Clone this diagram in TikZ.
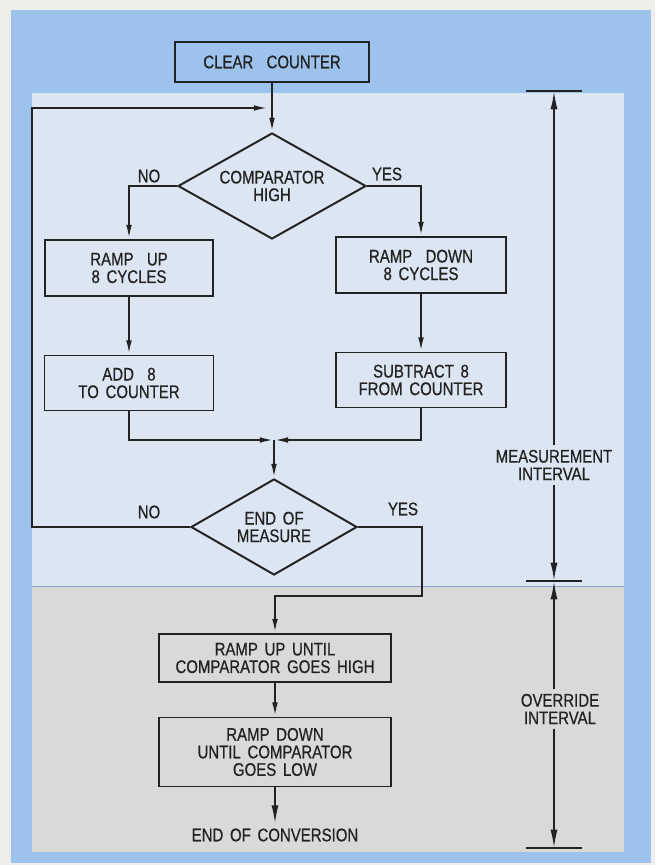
\documentclass[tikz,border=0pt]{standalone}
\usepackage{fontspec}
\setmainfont{Liberation Sans}[FakeStretch=0.82,WordSpace=1.6,FakeBold=0.6]
\usepackage{xcolor}
\usetikzlibrary{shapes.geometric,arrows.meta,positioning,calc}
\definecolor{ADPaper}  {HTML}{EEEEEA}
\definecolor{ADBlue}   {HTML}{9DC3EC}
\definecolor{ADBlueLt} {HTML}{DCE6F2}
\definecolor{ADGray}   {HTML}{D9D9D7}
\definecolor{ADInk}    {HTML}{222222}

\begin{document}
\begin{tikzpicture}[
    txt/.style={font=\fontsize{13}{12.5}\selectfont,text=ADInk,align=center},
    blk/.style={txt,draw=ADInk,line width=1.4pt,inner sep=2pt,
                minimum width=#1},
    dec/.style={txt,draw=ADInk,line width=1.4pt,shape=diamond,aspect=1.77,inner sep=0pt},
    ar/.style={-{Latex[length=10pt,width=4pt]},line width=1.4pt,ADInk},
    dim/.style={-{Latex[length=13pt,width=5pt]},line width=1.3pt,ADInk}
  ]
    \useasboundingbox (0,0) rectangle (16.375,-21.625);
    \fill[ADPaper]  (0,0) rectangle (16.375,-21.625);
    \fill[ADBlue]   (0.275,-0.25) rectangle (16.275,-21.575);
    \fill[ADBlueLt] (0.8,-2.325) rectangle (15.6,-14.65);
    \fill[ADGray]   (0.8,-14.65) rectangle (15.6,-21.3);
    \draw[ADBlue!85!black,line width=0.6pt] (0.8,-14.65) -- (15.6,-14.65);

    \node[blk=4.85cm,minimum height=1.0cm] (clear) at (6.8,-1.55) {CLEAR\ \ COUNTER};
    \node[dec,minimum width=4.7cm,minimum height=2.65cm] (comp) at (6.8,-4.65)
         {COMPARATOR\\HIGH};
    \node[blk=4.2cm,minimum height=1.4cm]   (up8)  at (3.225,-6.7)  {RAMP\ \ UP\\8 CYCLES};
    \node[blk=4.25cm,minimum height=1.4cm]  (dn8)  at (10.525,-6.625){RAMP\ \ DOWN\\8 CYCLES};
    \node[blk=4.225cm,minimum height=1.375cm](add8) at (3.225,-9.575) {ADD\ \ 8\\TO COUNTER};
    \node[blk=4.25cm,minimum height=1.375cm](sub8) at (10.525,-9.5)  {SUBTRACT 8\\FROM COUNTER};
    \node[dec,minimum width=4.15cm,minimum height=2.4cm] (endm) at (6.85,-13.175)
         {END OF\\MEASURE};
    \node[blk=5.8cm,minimum height=1.2cm]   (upto) at (6.875,-16.45) {RAMP UP UNTIL\\COMPARATOR GOES HIGH};
    \node[blk=5.8cm,minimum height=1.725cm] (dnto) at (6.875,-18.8)  {RAMP DOWN\\UNTIL COMPARATOR\\GOES LOW};
    \node[txt] (endc) at (6.875,-20.875) {END OF CONVERSION};

    \node[txt] (no1)  at (3.725,-4.4)    {NO};
    \node[txt] (yes1) at (9.675,-4.35)   {YES};
    \node[txt] (no2)  at (3.725,-12.8)   {NO};
    \node[txt] (yes2) at (10.075,-12.725){YES};

    \coordinate (loopin)  at (6.7,-2.7);
    \coordinate (loopcor) at (0.8,-2.7);
    \coordinate (join)    at (6.85,-11.0);
    \coordinate (yturn)   at (10.55,-14.9);

    \draw[ar] (clear.south) -- (comp.north);
    \draw[ar] (comp.west) -| (up8.north);
    \draw[ar] (comp.east) -| (dn8.north);
    \foreach \a/\b in {up8/add8,dn8/sub8,upto/dnto}
      \draw[ar] (\a.south) -- (\b.north);
    \draw[ar] (add8.south) |- (join);
    \draw[ar] (sub8.south) |- (join);
    \draw[ar] (join) -- (endm.north);
    \draw[ar] (endm.west) -| (loopcor) -- (loopin);
    \draw[ar] (endm.east) -| (yturn) -| (upto.north);
    \draw[dim] (dnto.south) -- (endc.north);

    \coordinate (mtop) at (13.85,-2.275);
    \coordinate (mmid) at (13.85,-14.525);
    \coordinate (mbot) at (13.85,-21.2);
    \foreach \t in {mtop,mmid,mbot}
      \draw[line width=1.3pt,ADInk] ($(\t)+(-0.7,0)$) -- ($(\t)+(0.7,0)$);
    \node[txt,inner sep=3pt] (meas) at (13.85,-11.625) {MEASUREMENT\\INTERVAL};
    \node[txt,inner sep=3pt] (ovr)  at (14.0,-17.725)  {OVERRIDE\\INTERVAL};
    \draw[dim] (meas.north -| mtop) -- (mtop);
    \draw[dim] (meas.south -| mtop) -- (mmid);
    \draw[dim] (ovr.north -| mmid) -- (mmid);
    \draw[dim] (ovr.south -| mmid) -- (mbot);
\end{tikzpicture}
\end{document}
